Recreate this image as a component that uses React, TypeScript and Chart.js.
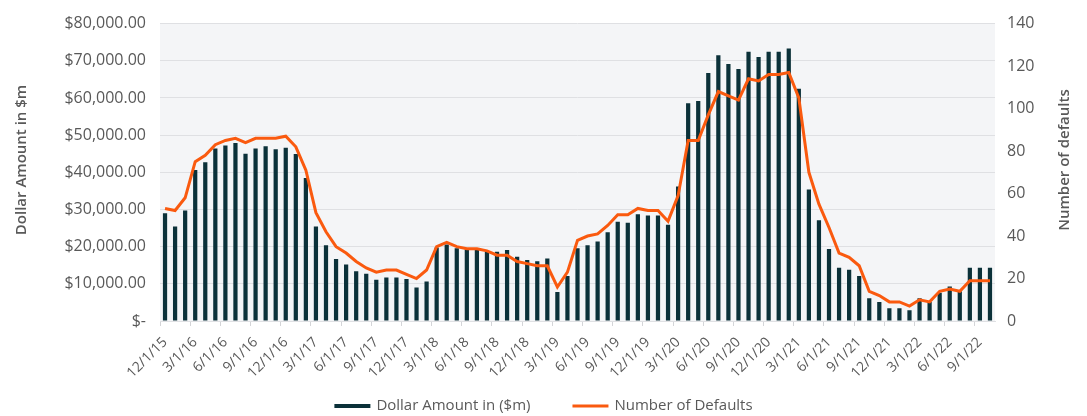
import React, { useEffect, useRef } from 'react';
import { Chart, registerables } from 'chart.js';

Chart.register(...registerables);

const categories = [
  '12/1/15', '1/1/16', '2/1/16', '3/1/16', '4/1/16', '5/1/16', '6/1/16', '7/1/16', '8/1/16', '9/1/16', '10/1/16', '11/1/16',
  '12/1/16', '1/1/17', '2/1/17', '3/1/17', '4/1/17', '5/1/17', '6/1/17', '7/1/17', '8/1/17', '9/1/17', '10/1/17', '11/1/17',
  '12/1/17', '1/1/18', '2/1/18', '3/1/18', '4/1/18', '5/1/18', '6/1/18', '7/1/18', '8/1/18', '9/1/18', '10/1/18', '11/1/18',
  '12/1/18', '1/1/19', '2/1/19', '3/1/19', '4/1/19', '5/1/19', '6/1/19', '7/1/19', '8/1/19', '9/1/19', '10/1/19', '11/1/19',
  '12/1/19', '1/1/20', '2/1/20', '3/1/20', '4/1/20', '5/1/20', '6/1/20', '7/1/20', '8/1/20', '9/1/20', '10/1/20', '11/1/20',
  '12/1/20', '1/1/21', '2/1/21', '3/1/21', '4/1/21', '5/1/21', '6/1/21', '7/1/21', '8/1/21', '9/1/21', '10/1/21', '11/1/21',
  '12/1/21', '1/1/22', '2/1/22', '3/1/22', '4/1/22', '5/1/22', '6/1/22', '7/1/22', '8/1/22', '9/1/22', '10/1/22',
];

const dollarAmounts = [
  29000, 25400, 29700, 40600, 42700, 46400, 47200, 47900, 45000, 46400, 47000, 46200,
  46600, 44900, 38500, 25400, 20400, 16700, 15200, 13400, 12700, 11100, 11700, 11700,
  11300, 9000, 10600, 19800, 20600, 19600, 19200, 19200, 18700, 18600, 19100, 17300,
  16400, 16100, 16800, 7800, 12100, 19600, 20400, 21400, 23900, 26700, 26400, 28700,
  28400, 28400, 25900, 36200, 58600, 59200, 66700, 71500, 69100, 67800, 72400, 71000,
  72400, 72400, 73300, 62500, 35400, 27100, 19400, 14300, 13800, 12100, 6100, 5100,
  3400, 3400, 2900, 6100, 5100, 7600, 9300, 8000, 14300, 14300, 14300,
];

const defaultCounts = [
  53, 52, 58, 75, 78, 83, 85, 86, 84, 86, 86, 86,
  87, 82, 71, 51, 42, 35, 32, 28, 25, 23, 24, 24,
  22, 20, 24, 35, 37, 35, 34, 34, 33, 31, 31, 28,
  27, 26, 26, 16, 23, 38, 40, 41, 45, 50, 50, 53,
  52, 52, 47, 59, 85, 85, 97, 108, 106, 104, 114, 113,
  116, 116, 117, 105, 70, 55, 44, 32, 30, 26, 14, 12,
  9, 9, 7, 10, 9, 14, 15, 14, 19, 19, 19,
];

const seriesNames = ['Dollar Amount in ($m)', 'Number of Defaults'];
const axisTitles = ['Dollar Amount in $m', 'Number of defaults'];

const FONT = '"Open Sans", sans-serif';
const TEXT = '#595959';
const BAR = '#0b3139';
const LINE = '#fa5a0f';
const GRID = '#dfe0e3';
const PLOT_BG = '#f4f5f7';

const plotBg = {
  id: 'plotBg',
  beforeDraw(chart: any) {
    const { ctx, chartArea } = chart;
    ctx.save();
    ctx.fillStyle = PLOT_BG;
    ctx.fillRect(chartArea.left, chartArea.top, chartArea.right - chartArea.left, chartArea.bottom - chartArea.top);
    ctx.restore();
  },
};

const axisTitlePlugin = {
  id: 'axisTitles',
  afterDraw(chart: any) {
    const { ctx } = chart;
    const cy = 160;
    const draw = (text: string, x: number) => {
      ctx.save();
      ctx.fillStyle = TEXT;
      ctx.font = `600 15px ${FONT}`;
      ctx.textAlign = 'center';
      ctx.textBaseline = 'middle';
      ctx.translate(x, cy);
      ctx.rotate(-Math.PI / 2);
      ctx.fillText(text, 0, 0);
      ctx.restore();
    };
    draw(axisTitles[0], 22);
    draw(axisTitles[1], 1065);
  },
};

const legendPlugin = {
  id: 'customLegend',
  afterDraw(chart: any) {
    const { ctx, width } = chart;
    const ds = chart.data.datasets;
    ctx.save();
    ctx.font = `15px ${FONT}`;
    ctx.textBaseline = 'middle';
    ctx.textAlign = 'left';
    const boxW = 36;
    const gapText = 6;
    const gapItem = 42;
    const w0 = ctx.measureText(ds[0].label).width;
    const w1 = ctx.measureText(ds[1].label).width;
    const total = boxW + gapText + w0 + gapItem + boxW + gapText + w1;
    let x = (width - total) / 2;
    const y = 406;
    ctx.fillStyle = BAR;
    ctx.fillRect(x, y - 2, boxW, 4);
    ctx.fillStyle = TEXT;
    ctx.fillText(ds[0].label, x + boxW + gapText, y);
    x += boxW + gapText + w0 + gapItem;
    ctx.strokeStyle = LINE;
    ctx.lineWidth = 3;
    ctx.beginPath();
    ctx.moveTo(x, y);
    ctx.lineTo(x + boxW, y);
    ctx.stroke();
    ctx.fillStyle = TEXT;
    ctx.fillText(ds[1].label, x + boxW + gapText, y);
    ctx.restore();
  },
};

function formatDollar(v: number) {
  if (v === 0) return '$-';
  return '$' + v.toLocaleString('en-US', { minimumFractionDigits: 2, maximumFractionDigits: 2 });
}

export default function App() {
  const canvasRef = useRef<HTMLCanvasElement | null>(null);

  useEffect(() => {
    if (!canvasRef.current) return;
    const chart = new Chart(canvasRef.current, {
      type: 'bar',
      data: {
        labels: categories,
        datasets: [
          {
            type: 'bar',
            label: seriesNames[0],
            data: dollarAmounts,
            backgroundColor: BAR,
            yAxisID: 'y',
            barPercentage: 0.42,
            categoryPercentage: 1,
            order: 1,
          },
          {
            type: 'line',
            label: seriesNames[1],
            data: defaultCounts,
            borderColor: LINE,
            backgroundColor: LINE,
            borderWidth: 3,
            pointRadius: 0,
            tension: 0,
            yAxisID: 'y1',
            order: 0,
          },
        ],
      } as any,
      options: {
        animation: false,
        responsive: true,
        maintainAspectRatio: false,
        layout: { padding: { top: 20, left: 0, right: 0, bottom: 40 } },
        plugins: {
          legend: { display: false },
          tooltip: { enabled: false },
        },
        scales: {
          x: {
            offset: true,
            afterFit(scale: any) {
              scale.height = 55;
            },
            grid: {
              offset: true,
              drawOnChartArea: false,
              drawTicks: true,
              tickLength: 5,
              color: (c: any) => (c.index % 3 === 0 ? '#d4d5d8' : 'rgba(0,0,0,0)'),
            },
            border: { display: true, color: GRID },
            ticks: {
              autoSkip: false,
              maxRotation: 45,
              minRotation: 45,
              padding: 8,
              color: TEXT,
              font: { family: FONT, size: 14 },
              callback: (_v: any, i: number) => (i % 3 === 0 ? categories[i] : ''),
            },
          },
          y: {
            position: 'left',
            min: 0,
            max: 80000,
            afterFit(scale: any) {
              scale.width = 160;
            },
            grid: { color: GRID, drawTicks: false, lineWidth: 1 },
            border: { display: false },
            ticks: {
              stepSize: 10000,
              padding: 14,
              color: TEXT,
              font: { family: FONT, size: 16 },
              callback: (v: any) => formatDollar(Number(v)),
            },
          },
          y1: {
            position: 'right',
            min: 0,
            max: 140,
            afterFit(scale: any) {
              scale.width = 92;
            },
            grid: { drawOnChartArea: false, drawTicks: false },
            border: { display: false },
            ticks: {
              stepSize: 20,
              padding: 12,
              color: TEXT,
              font: { family: FONT, size: 16 },
            },
          },
        },
      } as any,
      plugins: [plotBg, axisTitlePlugin, legendPlugin],
    });
    return () => chart.destroy();
  }, []);

  return (
    <div style={{ position: 'absolute', left: 0, top: 0, width: 1087, height: 416, background: '#fff' }}>
      <canvas ref={canvasRef} />
    </div>
  );
}
